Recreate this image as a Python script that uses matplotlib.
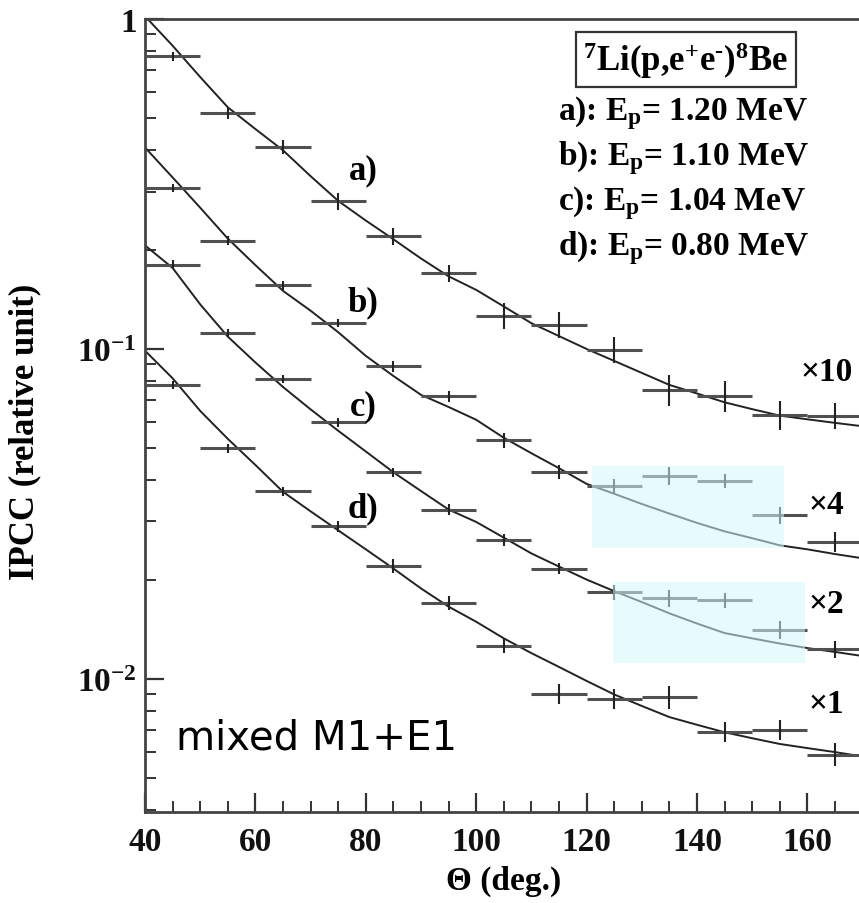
import matplotlib
matplotlib.use("Agg")
import matplotlib.pyplot as plt
from matplotlib.patches import Rectangle
from matplotlib.ticker import FixedLocator, MultipleLocator, LogLocator, NullFormatter

plt.rcParams['font.family'] = ['Liberation Serif', 'DejaVu Serif']
plt.rcParams['font.weight'] = 'bold'
plt.rcParams['axes.labelweight'] = 'bold'
plt.rcParams['mathtext.fontset'] = 'custom'
plt.rcParams['mathtext.rm'] = 'Liberation Serif:bold'
plt.rcParams['mathtext.bf'] = 'Liberation Serif:bold'
plt.rcParams['mathtext.default'] = 'bf'

# measured points (angle bins of 10 deg)
theta = [45, 55, 65, 75, 85, 95, 105, 115, 125, 135, 145, 155, 165]
ipcc_a = [0.77, 0.52, 0.41, 0.281, 0.22, 0.17, 0.126, 0.1185, 0.0995, 0.0753, 0.0722, 0.063, 0.0628]
ipcc_b = [0.308, 0.213, 0.156, 0.12, 0.0886, 0.0719, 0.0528, 0.0425, 0.0385, 0.0413, 0.0399, 0.0313, 0.026]
ipcc_c = [0.18, 0.1118, 0.0811, 0.06, 0.0423, 0.0326, 0.0264, 0.0216, 0.0183, 0.0176, 0.0173, 0.0141, 0.0123]
ipcc_d = [0.0778, 0.05, 0.037, 0.029, 0.022, 0.017, 0.0126, 0.0090, 0.0087, 0.0088, 0.0069, 0.0070, 0.0059]

# relative vertical errors
rel_err_a = [0.03, 0.04, 0.05, 0.06, 0.06, 0.06, 0.09, 0.09, 0.09, 0.11, 0.11, 0.10, 0.09]
rel_err_b = [0.03, 0.03, 0.03, 0.03, 0.04, 0.04, 0.05, 0.05, 0.05, 0.06, 0.05, 0.06, 0.07]
rel_err_c = [0.03, 0.03, 0.03, 0.03, 0.03, 0.04, 0.04, 0.04, 0.05, 0.06, 0.05, 0.06, 0.06]
rel_err_d = [0.03, 0.03, 0.03, 0.04, 0.05, 0.05, 0.05, 0.07, 0.07, 0.08, 0.07, 0.07, 0.08]
bin_half = 5

# simulated curves
curve_theta = [40, 45, 50, 55, 60, 65, 70, 75, 80, 85, 90, 95, 100, 105, 110,
               115, 120, 125, 130, 135, 140, 145, 150, 155, 160, 165, 170]
curve_a = [1.02, 0.83, 0.667, 0.54, 0.464, 0.40, 0.334, 0.281, 0.245, 0.215, 0.188, 0.166, 0.151, 0.1345,
           0.1197, 0.1094, 0.100, 0.092, 0.0846, 0.0778, 0.0733, 0.0689, 0.0657, 0.0628, 0.0612, 0.0597, 0.0583]
curve_b = [0.408, 0.331, 0.268, 0.216, 0.1795, 0.150, 0.1306, 0.1124, 0.0953, 0.0828, 0.0726, 0.0667, 0.061,
           0.0538, 0.0483, 0.0435, 0.039, 0.0364, 0.0339, 0.0317, 0.0297, 0.028, 0.0267, 0.0254, 0.0247, 0.0239, 0.0232]
curve_c = [0.206, 0.176, 0.1365, 0.109, 0.091, 0.0767, 0.0656, 0.0565, 0.0489, 0.0423, 0.0371, 0.0326, 0.0299,
           0.0268, 0.024, 0.0219, 0.020, 0.01845, 0.0171, 0.0158, 0.01472, 0.01377, 0.01327, 0.0128, 0.0124,
           0.01207, 0.01173]
curve_d = [0.0988, 0.0815, 0.0649, 0.0534, 0.0445, 0.0369, 0.0322, 0.0282, 0.0247, 0.0216, 0.0188, 0.01656,
           0.0149, 0.01327, 0.01197, 0.01087, 0.00986, 0.00897, 0.00828, 0.00766, 0.00726, 0.00689, 0.00661,
           0.00635, 0.00617, 0.006, 0.00582]

series = [(ipcc_a, rel_err_a, curve_a), (ipcc_b, rel_err_b, curve_b),
          (ipcc_c, rel_err_c, curve_c), (ipcc_d, rel_err_d, curve_d)]

curve_labels = ['a)', 'b)', 'c)', 'd)']
curve_label_y = [0.349, 0.1385, 0.0673, 0.0331]
scale_labels = ['×10', '×4', '×2', '×1']
scale_label_y = [0.0852, 0.0337, 0.01687, 0.0084]
energies = ['1.20', '1.10', '1.04', '0.80']
energy_y = [0.498, 0.364, 0.266, 0.194]

fig = plt.figure(figsize=(8.59, 9.04), dpi=100)
ax = fig.add_axes([145 / 859, 91 / 904, 717.6 / 859, 793 / 904])

for vals, rel, curve in series:
    ax.plot(curve_theta, curve, color='#222222', lw=1.4, zorder=2)
    ax.errorbar(theta, vals, xerr=bin_half, fmt='none', ecolor='#505050', elinewidth=2.2, zorder=3)
    yerr = [v * r for v, r in zip(vals, rel)]
    ax.errorbar(theta, vals, yerr=yerr, fmt='none', ecolor='#222222', elinewidth=1.5, zorder=3)

# highlight boxes
ax.add_patch(Rectangle((120.9, 0.0249), 34.9, 0.0441 - 0.0249, fc='#d5f8fb', ec='none', alpha=0.55, zorder=4))
ax.add_patch(Rectangle((124.8, 0.01117), 34.8, 0.0197 - 0.01117, fc='#d5f8fb', ec='none', alpha=0.55, zorder=4))

ax.set_yscale('log')
ax.set_xlim(40, 170)
ax.set_ylim(0.00395, 1.0)

ax.xaxis.set_major_locator(FixedLocator([40, 60, 80, 100, 120, 140, 160]))
ax.xaxis.set_minor_locator(MultipleLocator(5))
ax.yaxis.set_major_locator(FixedLocator([0.01, 0.1, 1]))
ax.set_yticklabels([r'$10^{-2}$', r'$10^{-1}$', '1'])
ax.yaxis.set_minor_locator(LogLocator(base=10, subs=[2, 3, 4, 5, 6, 7, 8, 9]))
ax.yaxis.set_minor_formatter(NullFormatter())

ax.tick_params(which='both', direction='in', colors='#333333', labelcolor='#111111', labelsize=24)
ax.tick_params(which='major', length=14, width=1.6)
ax.tick_params(which='minor', length=8, width=1.4)
ax.tick_params(axis='x', pad=10)
ax.tick_params(axis='y', pad=6)
for s in ax.spines.values():
    s.set_linewidth(2)
    s.set_color('#444444')

ax.set_xlabel('Θ (deg.)', fontsize=24, labelpad=6)
ax.set_ylabel('IPCC (relative unit)', fontsize=25)
ax.yaxis.set_label_coords(-0.145, 0.48)

for lab, y in zip(curve_labels, curve_label_y):
    ax.text(79.5, y, lab, fontsize=25, ha='center', va='center', zorder=6)
for lab, y in zip(scale_labels, scale_label_y):
    ax.text(163.4, y, lab, fontsize=24, ha='center', va='center', zorder=6)

ax.text(138.0, 0.70, r'$^{7}$Li(p,e$^{\text{+}}$e$^{\text{-}}$)$^{8}$Be', fontsize=25, ha='center',
        va='baseline', zorder=6,
        bbox=dict(boxstyle='square,pad=0.2', fc='white', ec='#333333', lw=1.6))
for lab, e, y in zip(['a', 'b', 'c', 'd'], energies, energy_y):
    ax.text(114.8, y, lab + '): E$_p$= ' + e + ' MeV', fontsize=24, ha='left', va='baseline', zorder=6)

ax.text(45.6, 0.00614, 'mixed M1+E1', fontsize=29, fontweight='normal', family='DejaVu Sans',
        ha='left', va='baseline', zorder=6)

fig.savefig('out.png', dpi=100)
